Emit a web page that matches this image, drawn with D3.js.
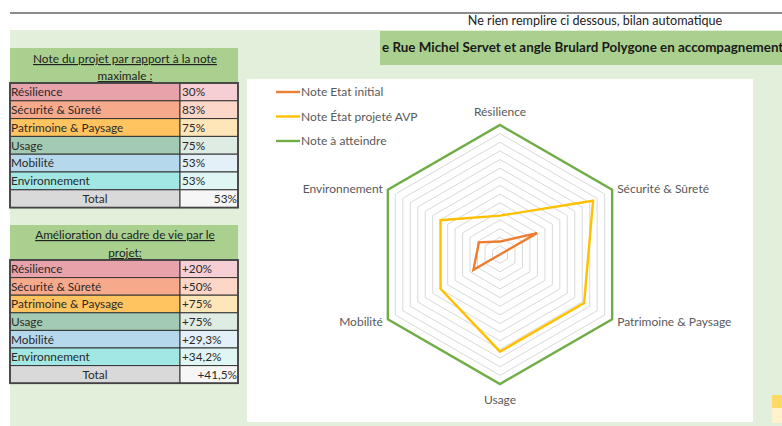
<!DOCTYPE html>
<html><head><meta charset="utf-8">
<script src="https://cdn.jsdelivr.net/npm/d3@7"></script>
<style>body{margin:0;background:#fff;}svg{display:block;font-family:Lato,"Noto Sans",sans-serif;}</style>
</head><body><svg id="c" width="782" height="426"></svg>
<script>
const categories = ["Résilience","Sécurité & Sûreté","Patrimoine & Paysage","Usage","Mobilité","Environnement"];
const noteInitial = [10, 33, 0, 0, 23.7, 18.8];
const noteProjete = [30, 83, 75, 75, 53, 53];
const noteCible = [100, 100, 100, 100, 100, 100];
const seriesNames = ["Note Etat initial","Note État projeté AVP","Note à atteindre"];
const scoreLabels = ["30%","83%","75%","75%","53%","53%"];
const scoreTotal = "53%";
const improveLabels = ["+20%","+50%","+75%","+75%","+29,3%","+34,2%"];
const improveTotal = "+41,5%";
const gridSteps = 15;

const svg = d3.select("#c");
// top line & note
svg.append("line").attr("x1",10).attr("x2",782).attr("y1",13).attr("y2",13).attr("stroke","#8c8c8c").attr("stroke-width",2);
svg.append("text").attr("x",595).attr("y",25).attr("text-anchor","middle").attr("font-size",12.6).attr("fill","#222").text("Ne rien remplire ci dessous, bilan automatique");
// light green area
svg.append("rect").attr("x",10).attr("y",30).attr("width",772).attr("height",396).attr("fill","#e2efda");
// title box
svg.append("rect").attr("x",380).attr("y",31).attr("width",402).attr("height",34).attr("fill","#a9d08e");
svg.append("text").attr("x",382).attr("y",52).attr("font-size",13.4).attr("font-weight","bold").attr("fill","#1a1a1a").text("e Rue Michel Servet et angle Brulard Polygone en accompagnement");
// little cell at right bottom
svg.append("rect").attr("x",772).attr("y",395).attr("width",10).attr("height",13).attr("fill","#ffd966");
svg.append("rect").attr("x",772).attr("y",408).attr("width",10).attr("height",15).attr("fill","#fff2cc");

// tables
const leftCols = ["#e8a2aa","#f7a98c","#ffc35f","#a3cbb3","#b6d8ec","#a2e7e4"];
const rightCols = ["#f5cfd4","#fcd7c8","#ffe6b8","#deece4","#e3f0f8","#e0f6f5"];
const FS = 11.8;
function table(y0, headerLines, hy, labels, total, rowH){
  const x0=10, xm=180, x1=238;
  const g = svg.append("g");
  g.append("rect").attr("x",x0).attr("y",y0).attr("width",x1-x0).attr("height",35).attr("fill","#a9d08e");
  headerLines.forEach((t,i)=>{
    g.append("text").attr("x",(x0+x1)/2+1).attr("y",y0+hy[i]).attr("text-anchor","middle").attr("font-size",FS).attr("fill","#222").attr("text-decoration","underline").text(t);
  });
  const ty = y0+35;
  categories.forEach((c,i)=>{
    const y = ty + i*rowH;
    g.append("rect").attr("x",x0).attr("y",y).attr("width",xm-x0).attr("height",rowH).attr("fill",leftCols[i]).attr("stroke","#333").attr("stroke-width",1);
    g.append("rect").attr("x",xm).attr("y",y).attr("width",x1-xm).attr("height",rowH).attr("fill",rightCols[i]).attr("stroke","#333").attr("stroke-width",1);
    g.append("text").attr("x",x0+1).attr("y",y+rowH/2+4.3).attr("font-size",FS).attr("fill","#2a2a2a").text(c);
    g.append("text").attr("x",xm+2).attr("y",y+rowH/2+4.3).attr("font-size",FS).attr("fill","#2a2a2a").text(labels[i]);
  });
  const yt = ty + 6*rowH;
  g.append("rect").attr("x",x0).attr("y",yt).attr("width",xm-x0).attr("height",rowH).attr("fill","#d9d9d9").attr("stroke","#333");
  g.append("rect").attr("x",xm).attr("y",yt).attr("width",x1-xm).attr("height",rowH).attr("fill","#f6f6f6").attr("stroke","#333");
  g.append("text").attr("x",(x0+xm)/2).attr("y",yt+rowH/2+4.3).attr("text-anchor","middle").attr("font-size",FS).attr("fill","#2a2a2a").text("Total");
  g.append("text").attr("x",x1-1).attr("y",yt+rowH/2+4.3).attr("text-anchor","end").attr("font-size",FS).attr("fill","#2a2a2a").text(total);
  g.append("rect").attr("x",x0).attr("y",ty).attr("width",x1-x0).attr("height",7*rowH).attr("fill","none").attr("stroke","#444").attr("stroke-width",1.8);
}
table(48, ["Note du projet par rapport à la note","maximale :"], [15,32], scoreLabels, scoreTotal, 17.8);
table(225, ["Amélioration du cadre de vie par le","projet:"], [14,32], improveLabels, improveTotal, 17.6);

// chart area
svg.append("rect").attr("x",247).attr("y",79).attr("width",506).attr("height",343).attr("fill","#fff");
const cx=500, cy=254.5, R=129.5;
const r = d3.scaleLinear().domain([0,100]).range([0,R]);
const ang = d3.scalePoint().domain(categories).range([0, 2*Math.PI*(5/6)]);
const pt = (c,v)=>[cx + r(v)*Math.sin(ang(c)), cy - r(v)*Math.cos(ang(c))];
const line = d3.line().curve(d3.curveLinearClosed);
const g = svg.append("g");
d3.range(1,gridSteps+1).forEach(i=>{
  const v = i*100/gridSteps;
  g.append("path").attr("d",line(categories.map(c=>pt(c,v)))).attr("fill","none").attr("stroke","#d9d9d9").attr("stroke-width",1);
});
const series = [
  {name:seriesNames[0], vals:noteInitial, col:"#ed7d31"},
  {name:seriesNames[1], vals:noteProjete, col:"#ffc000"},
  {name:seriesNames[2], vals:noteCible, col:"#70ad47"}];
series.slice().reverse().forEach(s=>{
  g.append("path").attr("d",line(categories.map((c,i)=>pt(c,s.vals[i])))).attr("fill","none").attr("stroke",s.col).attr("stroke-width",2.4).attr("stroke-linejoin","miter");
});
// axis labels
const lab = [
  {dx:0, dy:-9, a:"middle"},
  {dx:5, dy:3, a:"start"},
  {dx:5, dy:7, a:"start"},
  {dx:0, dy:20, a:"middle"},
  {dx:-5, dy:7, a:"end"},
  {dx:-5, dy:3, a:"end"}];
categories.forEach((c,i)=>{
  const p = pt(c,100);
  g.append("text").attr("x",p[0]+lab[i].dx).attr("y",p[1]+lab[i].dy).attr("text-anchor",lab[i].a).attr("font-size",12).attr("fill","#595959").text(c);
});
// legend
series.forEach((s,i)=>{
  const y = 92 + i*24.5;
  g.append("line").attr("x1",276).attr("x2",300).attr("y1",y).attr("y2",y).attr("stroke",s.col).attr("stroke-width",2.4);
  g.append("text").attr("x",301).attr("y",y+4).attr("font-size",12).attr("fill","#595959").text(s.name);
});
</script></body></html>
